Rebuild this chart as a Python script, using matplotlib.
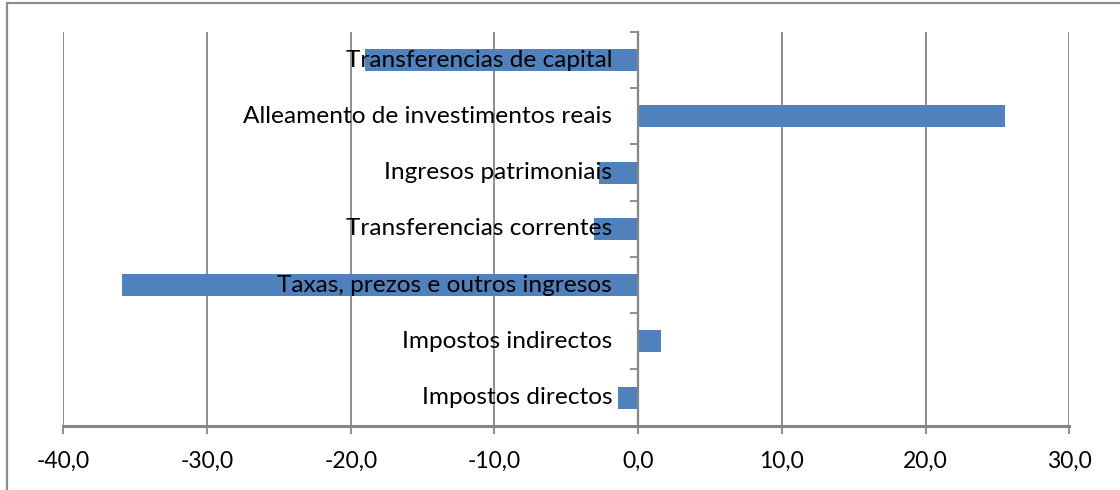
import matplotlib.pyplot as plt
from matplotlib.patches import Rectangle

categorias = [
    "Impostos directos",
    "Impostos indirectos",
    "Taxas, prezos e outros ingresos",
    "Transferencias correntes",
    "Ingresos patrimoniais",
    "Alleamento de investimentos reais",
    "Transferencias de capital",
]
valores = [-1.4, 1.6, -35.9, -3.1, -2.7, 25.5, -19.0]
xticks = [-40, -30, -20, -10, 0, 10, 20, 30]
xtick_labels = ["-40,0", "-30,0", "-20,0", "-10,0", "0,0", "10,0", "20,0", "30,0"]

COR_BARRA = "#4f81bd"
COR_GRADE = "#868686"
FONTE = "Lato"

fig = plt.figure(figsize=(11.2, 4.9), dpi=100)
ax = fig.add_axes([63.3 / 1120, 1 - 425.7 / 490, (1069.3 - 63.3) / 1120, (425.7 - 32) / 490])

y = list(range(len(categorias)))
ax.barh(y, valores, height=0.39, color=COR_BARRA, zorder=2)

for xv in xticks:
    ax.axvline(xv, color=COR_GRADE, linewidth=1.3, zorder=0)

ax.set_xlim(-40, 30)
ax.set_ylim(-0.5, len(categorias) - 0.5)

for s in ["top", "right"]:
    ax.spines[s].set_visible(False)
ax.spines["bottom"].set_color(COR_GRADE)
ax.spines["bottom"].set_linewidth(2.2)
ax.spines["left"].set_position(("data", 0))
ax.spines["left"].set_color(COR_GRADE)
ax.spines["left"].set_linewidth(1.6)
ax.spines["left"].set_zorder(3)

ax.set_xticks(xticks)
ax.set_xticklabels(xtick_labels, fontfamily=FONTE, fontsize=16.5)
ax.tick_params(axis="x", direction="out", length=5.5, width=1.3, color=COR_GRADE, pad=12.5)

ax.set_yticks([])
ax.set_yticks([i - 0.5 for i in range(len(categorias) + 1)], minor=True)
ax.tick_params(axis="y", which="minor", direction="out", length=5.5, width=1.3, color=COR_GRADE)

for i, nome in enumerate(categorias):
    ax.annotate(nome, xy=(0, i), xytext=(-26, 0), textcoords="offset pixels",
                ha="right", va="center", fontfamily=FONTE, fontsize=17.6, color="black", zorder=4)

borda = Rectangle((7 / 1120, -0.1), 1.2, 1 - 3 / 490 + 0.1, transform=fig.transFigure,
                  fill=False, edgecolor="#8c8c8c", linewidth=1.6)
fig.patches.append(borda)

plt.savefig("out.png", dpi=100)
